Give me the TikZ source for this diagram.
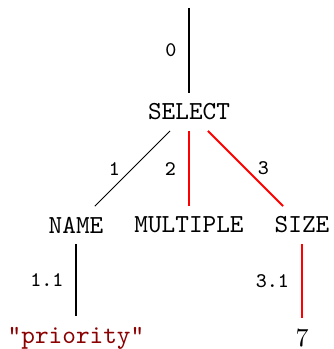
\documentclass[tikz,border=0pt]{standalone}
\usepackage{xcolor}
\definecolor{strred}{RGB}{139,0,0}
\definecolor{hlred}{RGB}{255,0,0}
\begin{document}
\begin{tikzpicture}[x=0.3846pt,y=-0.3846pt,
  tn/.style={font=\ttfamily, inner sep=3.9pt},
  lf/.style={inner sep=3.9pt},
  el/.style={font=\ttfamily\footnotesize, inner sep=0pt},
  plain/.style={draw=black, line width=0.4pt},
  hot/.style={draw=hlred, line width=0.8pt}]
\useasboundingbox (0,0) rectangle (333,349);
\coordinate (root) at (189,8);
\node[tn] (select) at (189,112) {SELECT};
\node[tn] (name) at (76,225) {NAME};
\node[tn] (multiple) at (189,225) {MULTIPLE};
\node[tn] (size) at (302,225) {SIZE};
\node[tn, text=strred] (prio) at (76,338) {"priority"};
\node[lf] (seven) at (302,338) {7};
\draw[plain] (root) -- (select) node[el, midway, anchor=east, xshift=-4.6pt] (l0) {0};
\draw[plain] (select) -- (name) node[el, midway, anchor=east, xshift=-4.6pt] (l1) {1};
\draw[hot] (select) -- (multiple) node[el, midway, anchor=east, xshift=-4.6pt] (l2) {2};
\draw[hot] (select) -- (size) node[el, midway, anchor=west, xshift=4.4pt] (l3) {3};
\draw[plain] (name) -- (prio) node[el, midway, anchor=east, xshift=-4.6pt] (l11) {1.1};
\draw[hot] (size) -- (seven) node[el, midway, anchor=east, xshift=-4.6pt] (l31) {3.1};
\end{tikzpicture}
\end{document}
